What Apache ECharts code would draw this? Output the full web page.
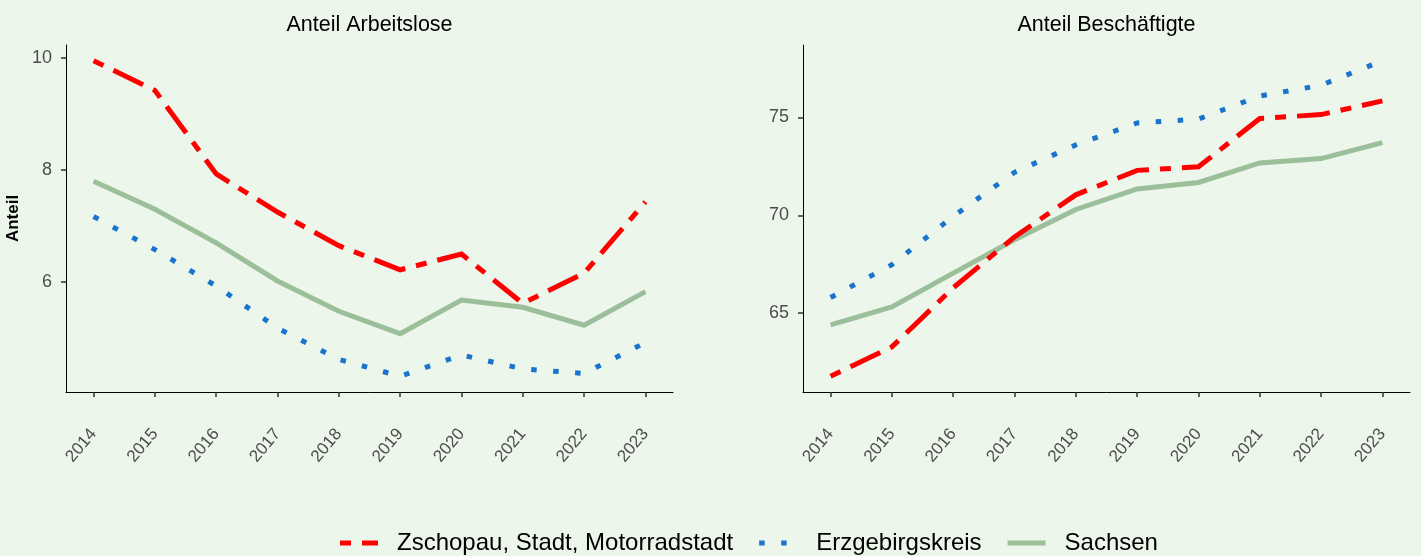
<!DOCTYPE html>
<html><head><meta charset="utf-8">
<script src="https://cdn.jsdelivr.net/npm/echarts@6/dist/echarts.min.js"></script>
<style>html,body{margin:0;padding:0;background:#EDF6EB;}#c{width:1421px;height:556px;}</style>
</head><body><div id="c"></div>
<script>
const years = [2014,2015,2016,2017,2018,2019,2020,2021,2022,2023];
const seriesNames = ['Zschopau, Stadt, Motorradstadt','Erzgebirgskreis','Sachsen'];
const panelTitles = ['Anteil Arbeitslose','Anteil Beschäftigte'];
const yAxisName = 'Anteil';
// Anteil Arbeitslose
const aloZschopau = [9.95,9.42,7.93,7.25,6.65,6.22,6.50,5.62,6.16,7.43];
const aloErzgebirge = [7.17,6.58,5.93,5.18,4.62,4.32,4.70,4.45,4.37,4.92];
const aloSachsen = [7.80,7.30,6.70,6.02,5.48,5.08,5.68,5.55,5.23,5.83];
// Anteil Beschäftigte
const besZschopau = [61.78,63.28,66.30,68.90,71.05,72.30,72.48,74.95,75.15,75.85];
const besErzgebirge = [65.80,67.48,69.95,72.20,73.60,74.72,74.92,76.10,76.65,77.90];
const besSachsen = [64.40,65.32,67.05,68.75,70.30,71.35,71.68,72.68,72.90,73.72];
const yTicksLeft = [6,8,10];
const yTicksRight = [65,70,75];

const colors = {z:'#FF0000', e:'#1874CD', s:'#9BBF9B'};
const FONT = 'Liberation Sans, Arial, sans-serif';

function pairs(vals){ return years.map((y,i)=>[y, vals[i]]); }
function ext(arrs){
  const all = [].concat(...arrs);
  const mn = Math.min(...all), mx = Math.max(...all), r = mx-mn;
  return [mn-0.05*r, mx+0.05*r];
}
const extL = ext([aloZschopau,aloErzgebirge,aloSachsen]);
const extR = ext([besZschopau,besErzgebirge,besSachsen]);
const xMin = years[0] - 0.05*(years[years.length-1]-years[0]);
const xMax = years[years.length-1] + 0.05*(years[years.length-1]-years[0]);

function xAx(gi){
  return {type:'value', gridIndex:gi, min:xMin, max:xMax,
    axisLine:{show:true, onZero:false, lineStyle:{color:'#000', width:1}},
    axisTick:{show:true, customValues:years, length:5, lineStyle:{color:'#333', width:1.5}},
    axisLabel:{customValues:years, rotate:50, margin:39, color:'#4D4D4D', fontSize:17, fontFamily:FONT, formatter:v=>String(v)},
    splitLine:{show:false}};
}
function yAx(gi, e, ticks, name){
  const o = {type:'value', gridIndex:gi, min:e[0], max:e[1],
    axisLine:{show:true, onZero:false, lineStyle:{color:'#000', width:1}},
    axisTick:{show:true, customValues:ticks, length:5, lineStyle:{color:'#333', width:1.5}},
    axisLabel:{customValues:ticks, color:'#4D4D4D', fontSize:18, fontFamily:FONT, margin:14, formatter:v=>String(v)},
    splitLine:{show:false}};
  if(name){ Object.assign(o,{name:name, nameLocation:'middle', nameRotate:90, nameGap:44,
    nameTextStyle:{fontWeight:'bold', fontSize:17, color:'#000', fontFamily:FONT}}); }
  return o;
}
const styles = {
  'Sachsen':{color:colors.s, type:'solid'},
  'Erzgebirgskreis':{color:colors.e, type:[5.5,16.5]},
  'Zschopau, Stadt, Motorradstadt':{color:colors.z, type:[11,11,33,11]}
};
const legendIcons = {
  'Zschopau, Stadt, Motorradstadt':'path://M0 0M52 5M0 0h11v5h-11zM22 0h16v5h-16z',
  'Erzgebirgskreis':'path://M0 0M52 5M0 0h5.5v5h-5.5zM22 0h5.5v5h-5.5z',
  'Sachsen':'path://M0 0M52 5M0 0h38v5h-38z'
};
function ser(name, vals, gi){
  const st = styles[name];
  return {name:name, type:'line', xAxisIndex:gi, yAxisIndex:gi, data:pairs(vals),
    symbol:'none', showSymbol:false, animation:false, silent:true,
    itemStyle:{color:st.color},
    lineStyle:{color:st.color, width:5, type:st.type, cap:'butt', join:'miter'}};
}
const chart = echarts.init(document.getElementById('c'), null, {renderer:'canvas'});
chart.setOption({
  backgroundColor:'#EDF6EB',
  animation:false,
  title:[
    {text:panelTitles[0], left:364.5, top:9, textAlign:'center', textStyle:{fontSize:21.5, fontWeight:'normal', color:'#000', fontFamily:FONT}},
    {text:panelTitles[1], left:1101.5, top:9, textAlign:'center', textStyle:{fontSize:21.5, fontWeight:'normal', color:'#000', fontFamily:FONT}}
  ],
  grid:[
    {left:66, top:45, width:607, height:347, containLabel:false, outerBoundsMode:'none'},
    {left:803, top:45, width:607, height:347, containLabel:false, outerBoundsMode:'none'}
  ],
  xAxis:[xAx(0), xAx(1)],
  yAxis:[yAx(0, extL, yTicksLeft, yAxisName), yAx(1, extR, yTicksRight, null)],
  legend:{data:seriesNames.map(n=>({name:n, icon:legendIcons[n], itemStyle:{color:styles[n].color}})),
    top:526, left:335, itemWidth:52, itemHeight:5, itemGap:26, symbolKeepAspect:false,
    textStyle:{fontSize:24, color:'#000', fontFamily:FONT}},
  series:[
    ser('Sachsen', aloSachsen, 0),
    ser('Erzgebirgskreis', aloErzgebirge, 0),
    ser('Zschopau, Stadt, Motorradstadt', aloZschopau, 0),
    ser('Sachsen', besSachsen, 1),
    ser('Erzgebirgskreis', besErzgebirge, 1),
    ser('Zschopau, Stadt, Motorradstadt', besZschopau, 1)
  ]
});
</script></body></html>
